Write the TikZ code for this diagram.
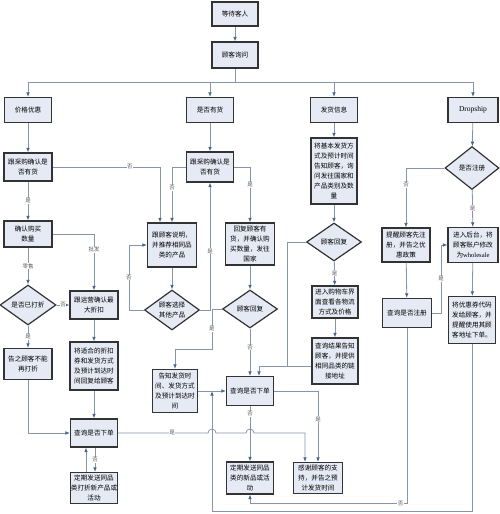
\documentclass[tikz,border=0pt]{standalone}
\usepackage{fontspec}
\newfontfamily\cjk{Noto Sans CJK SC}
\newfontfamily\lat{Liberation Serif}
\usetikzlibrary{shapes.geometric,arrows.meta,calc}
\definecolor{boxfill}{HTML}{E6EAF5}
\definecolor{boxline}{HTML}{333333}
\definecolor{linec}{HTML}{8596AB}
\definecolor{tipc}{HTML}{44658F}
\definecolor{labc}{HTML}{5A5A5A}
\tikzset{
 bx/.style={draw=boxline, fill=boxfill, line width=1.2pt, align=center, inner sep=0.5pt, font=\cjk\fontsize{6.6}{10}\selectfont, text=black},
 sz/.style 2 args={minimum width=#1pt, minimum height=#2pt},
 dm/.style={bx, shape=diamond, aspect=1.4, inner sep=0pt},
 ln/.style={draw=linec, line width=0.8pt},
 ar/.style={ln, -{Latex[length=4.5pt,width=3.6pt,color=tipc]}},
 lab/.style={font=\cjk\fontsize{5.5}{5.5}\selectfont, text=labc, fill=white, inner sep=0.6pt},
}
\begin{document}
\begin{tikzpicture}[x=1pt,y=-1pt]
\useasboundingbox[fill=white] (0,0) rectangle (500,514);
% row 0
\node[bx,sz={46}{24}] (wait) at (235,14) {等待客人};
\node[bx,sz={46}{26}] (ask) at (235,55) {顾客询问};
% row 1
\node[bx,sz={47}{25}] (price) at (28,110) {价格优惠};
\node[bx,sz={47}{25}] (stock) at (210,110) {是否有货};
\node[bx,sz={47}{25}] (ship) at (334,110) {发货信息};
\node[bx,sz={50}{25},font=\lat\fontsize{7.5}{9}\selectfont] (drop) at (473,110) {Dropship};
% row 2
\node[bx,sz={48}{28}] (chkL) at (28,167) {跟采购确认是\\否有货};
\node[bx,sz={47}{30}] (chkM) at (210,167) {跟采购确认是\\否有货};
\node[bx,sz={46}{66}] (info) at (334,171) {将基本发货方\\式及预计时间\\告知顾客，询\\问发往国家和\\产品类别及数\\量};
\node[dm,sz={54}{43}] (reg) at (472,168) {是否注册};
% row 3
\node[bx,sz={48}{26}] (qty) at (28,234) {确认购买\\数量};
\node[bx,sz={49}{44}] (rec) at (172,245) {跟顾客说明，\\并推荐相同品\\类的产品};
\node[bx,sz={49}{42}] (have) at (250,244) {回复顾客有\\货，并确认购\\买数量，发往\\国家};
\node[dm,sz={55}{38}] (reply3) at (334,242) {顾客回复};
\node[bx,sz={48}{34}] (remind) at (406,245) {提醒顾客先注\\册，并告之优\\惠政策};
\node[bx,sz={50}{35}] (backend) at (473,245) {进入后台，将\\顾客账户修改\\为{\lat wholesale}};
% row 4
\node[dm,sz={56}{40}] (disc) at (28,305) {是否已打折};
\node[bx,sz={48}{28}] (ops) at (94,305) {跟运营确认最\\大折扣};
\node[dm,sz={55}{40}] (other) at (172,310) {顾客选择\\其他产品};
\node[dm,sz={55}{38}] (reply2) at (250,309) {顾客回复};
\node[bx,sz={46}{32}] (cart) at (335,302) {进入购物车界\\面查看各物流\\方式及价格};
\node[bx,sz={49}{29}] (qreg) at (407,313) {查询是否注册};
\node[bx,sz={47}{47}] (coupon) at (472,320) {将优惠券代码\\发给顾客，并\\提醒使用其顾\\客地址下单。};
% row 5
\node[bx,sz={48}{31}] (nodisc) at (28,364) {告之顾客不能\\再打折};
\node[bx,sz={48}{48}] (coup2) at (94,366) {将适合的折扣\\券和发货方式\\及预计到达时\\间回复给顾客};
\node[bx,sz={46}{46}] (result) at (335,361) {查询结果告知\\顾客，并提供\\相同品类的链\\接地址};
\node[bx,sz={45}{43}] (tell) at (175,391) {告知发货时\\间、发货方式\\及预计到达时\\间};
\node[bx,sz={47}{29}] (orderM) at (250,391) {查询是否下单};
% row 6
\node[bx,sz={47}{28}] (orderL) at (94,433) {查询是否下单};
\node[bx,sz={47}{31}] (sendL) at (94,488) {定期发送同品\\类打折新产品或\\活动};
\node[bx,sz={47}{32}] (sendM) at (250,478) {定期发送同品\\类的新品或活\\动};
\node[bx,sz={49}{31}] (thanks) at (318,478) {感谢顾客的支\\持，并告之预\\计发货时间};

\coordinate (busy) at (0,82);
\coordinate (j) at (212,391);
\coordinate (bot) at (212,511);
\coordinate (k) at (287,366);

% top
\draw[ar] (wait) -- (ask);
\draw[ln] (ask.south) -- (ask.south |- busy);
\draw[ar] (ask.south |- busy) -| (price);
\draw[ar] (ask.south |- busy) -| (stock);
\draw[ar] (ask.south |- busy) -| (ship);
\draw[ar] (ask.south |- busy) -| (drop);
% column 1
\draw[ar] (price) -- (chkL);
\draw[ar] (chkL) -- node[lab]{是} (qty);
\draw[ar] (chkL.east) -| node[lab,pos=0.36]{否} ($(rec.north)+(-12,0)$);
\draw[ar] (qty) -- node[lab]{零售} (disc);
\draw[ar] (qty.east) -| node[lab,pos=0.64]{批发} (ops.north);
\draw[ar] (disc) -- node[lab]{否} (ops);
\draw[ar] (disc) -- node[lab]{是} (nodisc);
\draw[ar] (ops) -- (coup2);
\draw[ar] (coup2) -- (orderL);
\draw[ar] (nodisc.south) |- (orderL.west);
\draw[ar] ($(orderL.south)+(1,0)$) -- node[lab]{否} ($(sendL.north)+(1,0)$);
\draw[ar] ($(sendL.north)+(-8,0)$) -- ($(orderL.south)+(-8,0)$);
\draw[ar] (orderL.east) -- node[lab,pos=0.6]{是} (208,433) arc[start angle=180,end angle=360,radius=4] -- (246,433) arc[start angle=180,end angle=360,radius=4] -- (305,433) -- ($(thanks.north)+(-13,0)$);
% column 2
\draw[ar] (stock) -- (chkM);
\draw[ar] (chkM.west) -| node[lab,pos=0.69]{否} (rec.north);
\draw[ar] (chkM.east) -| node[lab,pos=0.66]{是} (have.north);
\draw[ar] (rec) -- (other);
\draw[ar] (other.west) -- ++(-15,0) |- node[lab,pos=0.25]{否} (rec.west);
\draw[ar] (other.east) -| node[lab,pos=0.73]{是} (chkM.south);
\draw[ar] (have) -- (reply2);
\draw[ar] (reply2.west) -- ++(-10,0) -- node[lab]{是} ++(0,40) -| (tell.north);
\draw[ar] (reply2) -- node[lab,pos=0.4]{否} (orderM);
\draw[ar] (tell) -- (orderM);
\draw[ar] (coupon.south) |- (bot) -- (j);
\draw[ar] (orderM.south) -- node[lab,pos=0.14]{否} (sendM.north);
\draw[ar] (orderM.east) -| node[lab,pos=0.7]{是} (thanks.north);
% column 3
\draw[ar] (ship) -- (info);
\draw[ar] (info) -- (reply3);
\draw[ar] (reply3) -- node[lab]{是} (cart);
\draw[ar] (cart) -- (result);
\draw[ar] ($(result.west)+(0,5)$) -| ($(orderM.north)+(9,0)$);
\draw[ln] (reply3.west) -| (k);
% column 4
\draw[ar] (drop) -- (reg);
\draw[ar] (reg.west) -| node[lab,pos=0.64]{否} (remind.north);
\draw[ar] (reg) -- node[lab]{是} (backend);
\draw[ar] (remind) -- (qreg);
\draw[ar] (qreg.east) -- ++(9,0) |- node[lab,pos=0.25]{是} (backend.west);
\draw[ar] (backend) -- (coupon);
\draw[ar] (qreg.south) |- node[lab,pos=0.52]{否} ($(sendM.south)+(0,9)$) -- (sendM.south);
\end{tikzpicture}
\end{document}
